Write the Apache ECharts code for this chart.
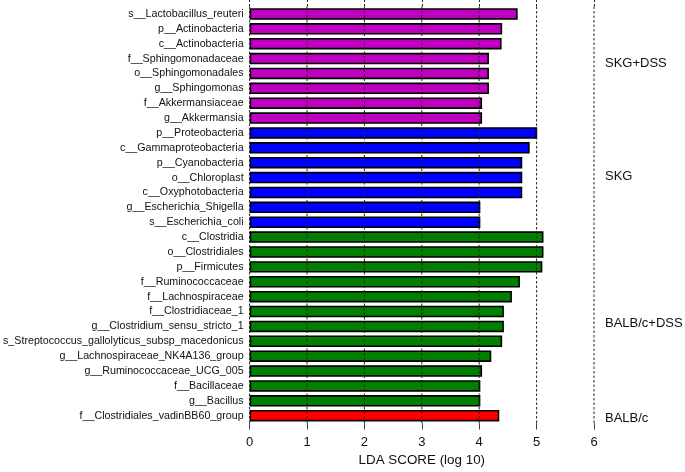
<!DOCTYPE html>
<html>
<head>
<meta charset="utf-8">
<script src="https://cdn.jsdelivr.net/npm/echarts@6/dist/echarts.min.js"></script>
<style>
html,body{margin:0;padding:0;background:#fff;}
#chart{width:685px;height:472px;}
</style>
</head>
<body>
<div id="chart"></div>
<script>
// ---- data ----
var categories = [
  's__Lactobacillus_reuteri',
  'p__Actinobacteria',
  'c__Actinobacteria',
  'f__Sphingomonadaceae',
  'o__Sphingomonadales',
  'g__Sphingomonas',
  'f__Akkermansiaceae',
  'g__Akkermansia',
  'p__Proteobacteria',
  'c__Gammaproteobacteria',
  'p__Cyanobacteria',
  'o__Chloroplast',
  'c__Oxyphotobacteria',
  'g__Escherichia_Shigella',
  's__Escherichia_coli',
  'c__Clostridia',
  'o__Clostridiales',
  'p__Firmicutes',
  'f__Ruminococcaceae',
  'f__Lachnospiraceae',
  'f__Clostridiaceae_1',
  'g__Clostridium_sensu_stricto_1',
  's_Streptococcus_gallolyticus_subsp_macedonicus',
  'g__Lachnospiraceae_NK4A136_group',
  'g__Ruminococcaceae_UCG_005',
  'f__Bacillaceae',
  'g__Bacillus',
  'f__Clostridiales_vadinBB60_group'
];
var ldaScores = [
  4.67, 4.40, 4.39, 4.17, 4.17, 4.17, 4.05, 4.05,
  5.01, 4.88, 4.75, 4.75, 4.75, 4.02, 4.02,
  5.12, 5.12, 5.10, 4.71, 4.57, 4.43, 4.43, 4.40, 4.21, 4.05, 4.02, 4.02,
  4.35
];
var groupNames = ['SKG+DSS', 'SKG', 'BALB/c+DSS', 'BALB/c'];
var groupSizes = [8, 7, 12, 1];
var xTicks = [0, 1, 2, 3, 4, 5, 6];

// ---- styles ----
var groupColors = ['#C000C0', '#0000FF', '#007F00', '#FF0000'];
var FONT = "'Liberation Sans', Arial, Helvetica, sans-serif";
var groupLabelShift = [-3, -1, 4, 3];

var groupIndexOf = [];
groupSizes.forEach(function (n, g) { for (var i = 0; i < n; i++) groupIndexOf.push(g); });

var chart = echarts.init(document.getElementById('chart'), null, {renderer: 'canvas'});

var gridLine = {color: '#222', width: 1, type: [2.5, 2]};

chart.setOption({
  animation: false,
  backgroundColor: '#fff',
  textStyle: {fontFamily: FONT},
  grid: {left: 249, right: 91, top: 6.5, height: 420, containLabel: false},
  xAxis: [{
    type: 'value',
    min: xTicks[0],
    max: xTicks[xTicks.length - 1],
    interval: 1,
    position: 'bottom',
    name: 'LDA SCORE (log 10)',
    nameLocation: 'middle',
    nameGap: 20,
    nameTextStyle: {fontSize: 13.4, color: '#111', fontFamily: FONT},
    axisLine: {show: false},
    axisTick: {show: true, length: 6.5, lineStyle: {color: '#444', width: 1}},
    axisLabel: {fontSize: 13, color: '#111', margin: 13, fontFamily: FONT},
    splitLine: {show: false}
  }, {
    type: 'value',
    min: xTicks[0],
    max: xTicks[xTicks.length - 1],
    interval: 1,
    position: 'top',
    axisLine: {show: false},
    axisTick: {show: true, length: 6.5, lineStyle: gridLine},
    axisLabel: {show: false},
    splitLine: {show: false}
  }],
  yAxis: {
    type: 'category',
    inverse: true,
    data: categories,
    axisLine: {show: false},
    axisTick: {show: false},
    axisLabel: {fontSize: 10.7, color: '#111', margin: 6, fontFamily: FONT},
    splitLine: {show: false}
  },
  series: [{
    type: 'bar',
    z: 2,
    data: ldaScores,
    barWidth: 11.5,
    itemStyle: {
      borderColor: '#000',
      borderWidth: 1.6,
      color: function (p) { return groupColors[groupIndexOf[p.dataIndex]]; }
    }
  }, {
    // dashed reference lines at each tick, drawn above the bars
    type: 'custom',
    z: 20,
    silent: true,
    data: xTicks.map(function (t) { return [t, 0]; }),
    encode: {x: 0, y: 1},
    renderItem: function (params, api) {
      var x = api.coord([api.value(0), 0])[0];
      var cs = params.coordSys;
      return {
        type: 'line',
        shape: {x1: x, y1: cs.y, x2: x, y2: cs.y + cs.height},
        style: {stroke: gridLine.color, lineWidth: gridLine.width, lineDash: gridLine.type, fill: null}
      };
    }
  }]
});

// group labels placed using the category axis scale
var graphics = [];
var start = 0;
groupSizes.forEach(function (n, g) {
  var y1 = chart.convertToPixel({yAxisIndex: 0}, categories[start]);
  var y2 = chart.convertToPixel({yAxisIndex: 0}, categories[start + n - 1]);
  var x6 = chart.convertToPixel({xAxisIndex: 0}, xTicks[xTicks.length - 1]);
  graphics.push({
    type: 'text',
    x: x6 + 11,
    y: (y1 + y2) / 2 + groupLabelShift[g],
    style: {text: groupNames[g], font: '13px ' + FONT, fill: '#111', textVerticalAlign: 'middle', verticalAlign: 'middle'}
  });
  start += n;
});
chart.setOption({graphic: graphics});
</script>
</body>
</html>
